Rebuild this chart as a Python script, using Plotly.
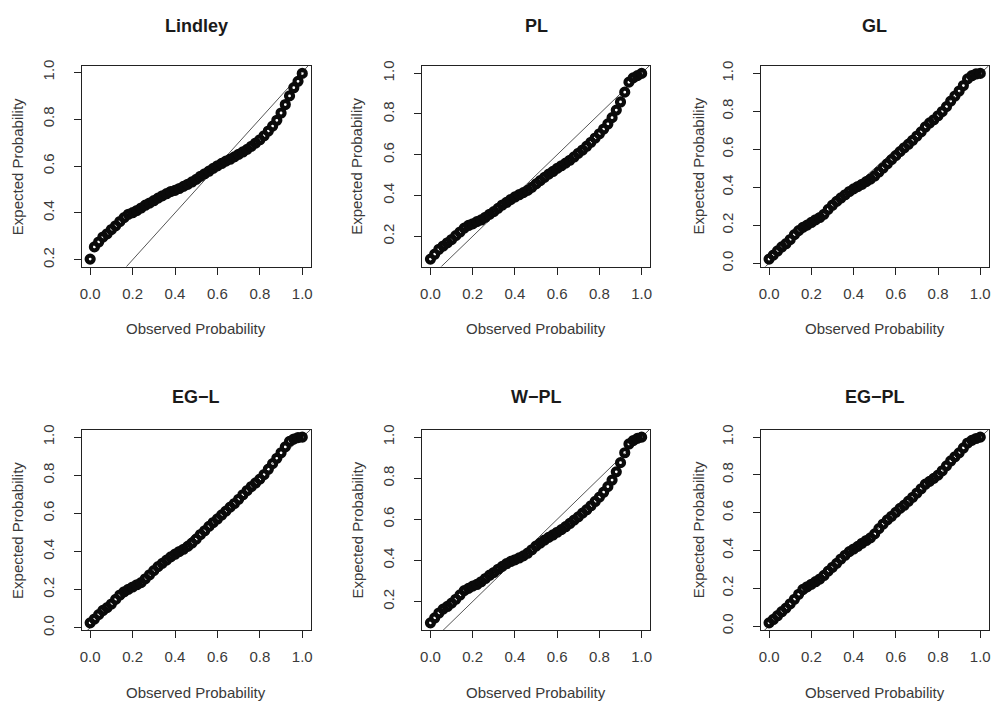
import plotly.graph_objects as go

# ---------------- data ----------------
panel_titles = ["Lindley", "PL", "GL", "EG\u2212L", "W\u2212PL", "EG\u2212PL"]
x_label = "Observed Probability"
y_label = "Expected Probability"
tick_vals = [0.0, 0.2, 0.4, 0.6, 0.8, 1.0]

observed = [0.00, 0.02, 0.04, 0.06, 0.08, 0.10, 0.12, 0.14, 0.16, 0.18,
            0.20, 0.22, 0.24, 0.26, 0.28, 0.30, 0.32, 0.34, 0.36, 0.38,
            0.40, 0.42, 0.44, 0.46, 0.48, 0.50, 0.52, 0.54, 0.56, 0.58,
            0.60, 0.62, 0.64, 0.66, 0.68, 0.70, 0.72, 0.74, 0.76, 0.78,
            0.80, 0.82, 0.84, 0.86, 0.88, 0.90, 0.92, 0.94, 0.96, 0.98, 1.00]

lindley = [0.203, 0.255, 0.276, 0.297, 0.311, 0.329, 0.345, 0.363, 0.380, 0.394,
           0.401, 0.410, 0.421, 0.433, 0.442, 0.452, 0.463, 0.473, 0.482, 0.491,
           0.496, 0.504, 0.513, 0.522, 0.532, 0.543, 0.556, 0.567, 0.578, 0.590,
           0.601, 0.611, 0.621, 0.629, 0.639, 0.650, 0.660, 0.671, 0.684, 0.698,
           0.712, 0.729, 0.749, 0.770, 0.795, 0.826, 0.862, 0.899, 0.934, 0.961, 0.995]

pl = [0.088, 0.112, 0.136, 0.152, 0.168, 0.184, 0.203, 0.221, 0.240, 0.253,
      0.261, 0.272, 0.280, 0.293, 0.308, 0.321, 0.337, 0.353, 0.366, 0.380,
      0.393, 0.404, 0.414, 0.425, 0.440, 0.457, 0.473, 0.489, 0.505, 0.518,
      0.533, 0.546, 0.559, 0.573, 0.589, 0.607, 0.623, 0.642, 0.661, 0.682,
      0.703, 0.726, 0.751, 0.782, 0.819, 0.859, 0.907, 0.956, 0.977, 0.988, 0.999]

gl = [0.022, 0.043, 0.065, 0.086, 0.103, 0.125, 0.151, 0.172, 0.189, 0.201,
      0.215, 0.229, 0.241, 0.258, 0.284, 0.306, 0.326, 0.344, 0.361, 0.378,
      0.392, 0.404, 0.416, 0.430, 0.443, 0.460, 0.481, 0.502, 0.524, 0.546,
      0.567, 0.588, 0.608, 0.627, 0.648, 0.670, 0.692, 0.718, 0.739, 0.756,
      0.777, 0.799, 0.825, 0.854, 0.881, 0.907, 0.936, 0.971, 0.988, 0.997, 1.000]

eg_l = [0.026, 0.046, 0.069, 0.091, 0.106, 0.125, 0.149, 0.172, 0.189, 0.202,
        0.214, 0.226, 0.237, 0.257, 0.278, 0.300, 0.321, 0.338, 0.355, 0.372,
        0.386, 0.400, 0.412, 0.427, 0.444, 0.465, 0.489, 0.509, 0.532, 0.552,
        0.571, 0.592, 0.612, 0.633, 0.652, 0.674, 0.698, 0.720, 0.741, 0.760,
        0.780, 0.804, 0.832, 0.861, 0.889, 0.918, 0.949, 0.978, 0.990, 0.998, 1.000]

w_pl = [0.096, 0.120, 0.144, 0.163, 0.176, 0.192, 0.211, 0.232, 0.253, 0.264,
        0.275, 0.283, 0.296, 0.312, 0.328, 0.341, 0.357, 0.371, 0.384, 0.395,
        0.403, 0.412, 0.422, 0.435, 0.452, 0.470, 0.484, 0.499, 0.512, 0.524,
        0.537, 0.550, 0.564, 0.580, 0.596, 0.612, 0.630, 0.647, 0.666, 0.687,
        0.708, 0.732, 0.759, 0.791, 0.831, 0.876, 0.924, 0.967, 0.983, 0.994, 1.000]

eg_pl = [0.017, 0.035, 0.055, 0.076, 0.095, 0.118, 0.142, 0.168, 0.194, 0.208,
         0.221, 0.235, 0.249, 0.268, 0.291, 0.311, 0.332, 0.355, 0.375, 0.394,
         0.408, 0.422, 0.438, 0.453, 0.467, 0.488, 0.516, 0.540, 0.562, 0.581,
         0.602, 0.623, 0.640, 0.661, 0.682, 0.704, 0.727, 0.751, 0.766, 0.782,
         0.799, 0.822, 0.848, 0.874, 0.896, 0.917, 0.943, 0.969, 0.983, 0.993, 1.000]

series = [lindley, pl, gl, eg_l, w_pl, eg_pl]

# ---------------- layout geometry (pixels) ----------------
W, H = 995, 711
col_px = [(80, 310), (421.7, 650.7), (761.7, 990.7)]
row_px = [(61, 265), (431, 635)]
title_gap = [41, 33]
ytitle_px = [15, 356, 699]

FONT = "Liberation Sans, Arial, Helvetica, sans-serif"
TXT = "#3a3a3a"

fig = go.Figure()
annotations = []


def r_range(vals):
    lo, hi = min(vals), max(vals)
    pad = 0.04 * (hi - lo)
    return [lo - pad, hi + pad]


for i, (title, yv) in enumerate(zip(panel_titles, series)):
    r, c = divmod(i, 3)
    n = i + 1
    xa = "x" if n == 1 else f"x{n}"
    ya = "y" if n == 1 else f"y{n}"
    xr = r_range(observed)
    yr = r_range(yv)

    x0, x1 = col_px[c]
    yt, yb = row_px[r]
    xdom = [x0 / W, x1 / W]
    ydom = [1 - yb / H, 1 - yt / H]

    # reference line y = x across the whole panel
    lo = min(xr[0], yr[0])
    hi = max(xr[1], yr[1])
    fig.add_trace(go.Scatter(x=[lo, hi], y=[lo, hi], mode="lines",
                             line=dict(color="#555555", width=1),
                             xaxis=xa, yaxis=ya, showlegend=False,
                             hoverinfo="skip"))
    fig.add_trace(go.Scatter(x=observed, y=yv, mode="markers",
                             marker=dict(symbol="circle-open", size=7,
                                         color="#0a0a0a",
                                         line=dict(width=4.2, color="#0a0a0a")),
                             xaxis=xa, yaxis=ya, showlegend=False))

    axis_common = dict(showline=True, mirror=True, linecolor="#222222",
                       linewidth=1, ticks="outside", ticklen=7,
                       tickcolor="#222222", tickwidth=1, showgrid=False,
                       zeroline=False, tickvals=tick_vals, tickformat=".1f",
                       tickfont=dict(family=FONT, size=15, color=TXT),
                       fixedrange=True)
    fig.update_layout(**{
        ("xaxis" if n == 1 else f"xaxis{n}"): dict(
            axis_common, domain=xdom, anchor=ya, range=xr,
            ticklabelstandoff=6),
        ("yaxis" if n == 1 else f"yaxis{n}"): dict(
            axis_common, domain=ydom, anchor=xa, range=yr,
            tickangle=-90, ticklabelstandoff=14),
    })

    cx = (x0 + x1) / 2 / W
    cy = 1 - (yt + yb) / 2 / H
    annotations.append(dict(text=f"<b>{title}</b>", x=cx,
                            y=1 - (yt - title_gap[r]) / H,
                            xref="paper", yref="paper", showarrow=False,
                            xanchor="center", yanchor="middle",
                            font=dict(family=FONT, size=18, color="#1a1a1a")))
    annotations.append(dict(text=x_label, x=cx, y=1 - (yb + 63) / H,
                            xref="paper", yref="paper", showarrow=False,
                            xanchor="center", yanchor="middle",
                            font=dict(family=FONT, size=15, color=TXT)))
    annotations.append(dict(text=y_label, x=ytitle_px[c] / W, y=cy,
                            xref="paper", yref="paper", showarrow=False,
                            textangle=-90, xanchor="center", yanchor="middle",
                            font=dict(family=FONT, size=15, color=TXT)))

fig.update_layout(width=W, height=H, margin=dict(l=0, r=0, t=0, b=0),
                  paper_bgcolor="white", plot_bgcolor="white",
                  annotations=annotations, showlegend=False)

fig.write_html("out.html",
               config={"displayModeBar": False},
               post_script="document.body.style.margin='0px';"
                           "document.body.style.overflow='hidden';")
